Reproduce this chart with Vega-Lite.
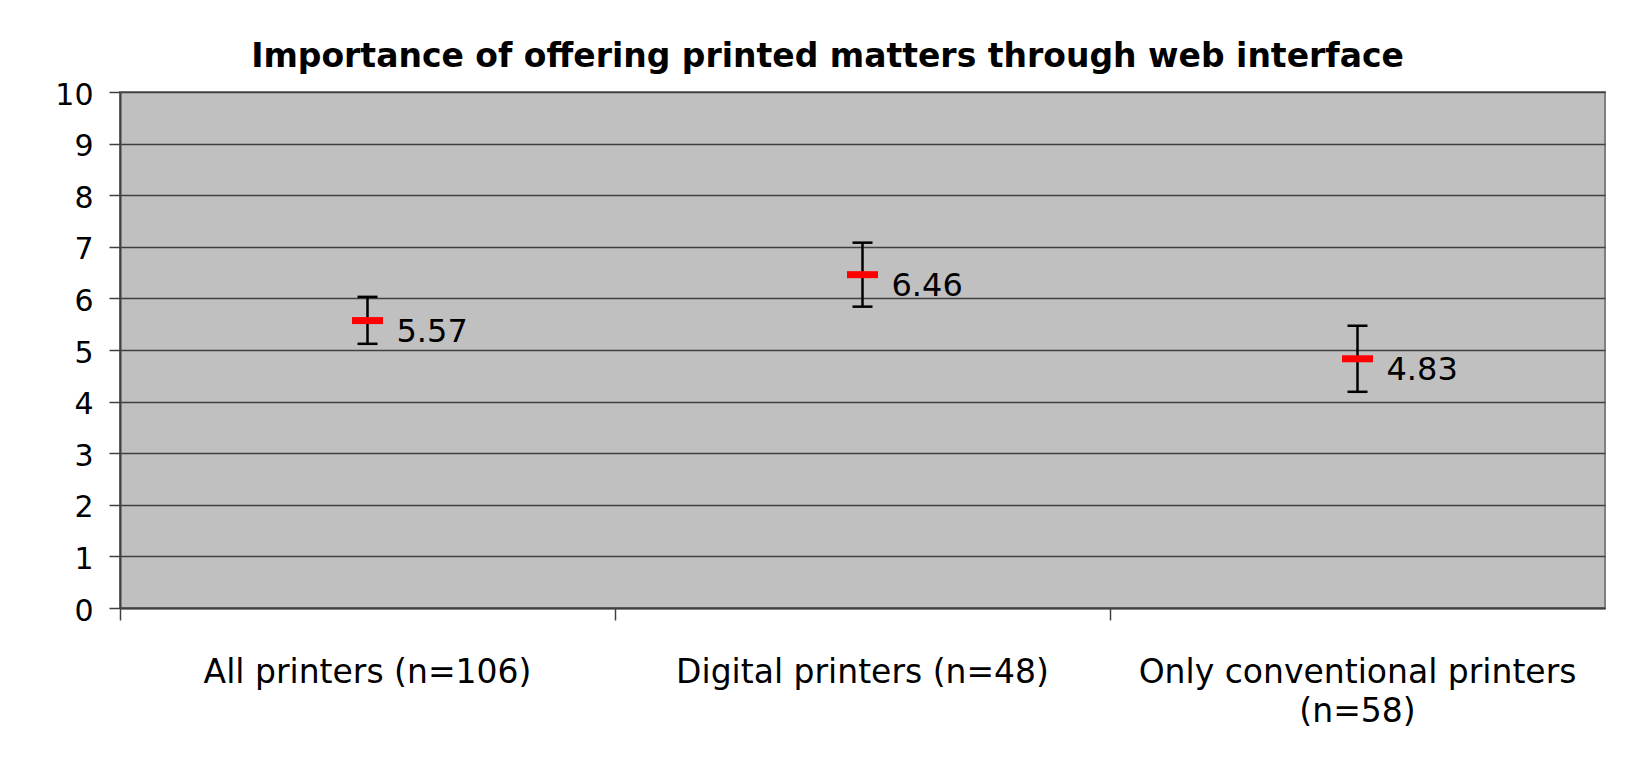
{
  "$schema": "https://vega.github.io/schema/vega-lite/v6.json",
  "autosize": {"type": "none"},
  "width": 1485,
  "height": 516,
  "padding": {"left": 120, "top": 92, "right": 43, "bottom": 164},
  "background": "white",
  "title": {
    "text": "Importance of offering printed matters through web interface",
    "font": "DejaVu Sans",
    "fontWeight": "bold",
    "fontSize": 33,
    "color": "black",
    "anchor": "middle",
    "baseline": "alphabetic",
    "offset": 25,
    "dx": -35,
    "dy": 45
  },
  "data": {
    "values": [
      {"category": "All printers (n=106)", "mean": 5.57, "lower": 5.12, "upper": 6.03},
      {"category": "Digital printers (n=48)", "mean": 6.46, "lower": 5.84, "upper": 7.08},
      {"category": "Only conventional printers (n=58)", "mean": 4.83, "lower": 4.19, "upper": 5.47}
    ]
  },
  "encoding": {
    "x": {
      "field": "category",
      "type": "nominal",
      "sort": null,
      "scale": {"paddingInner": 0, "paddingOuter": 0},
      "axis": {
        "title": null,
        "labelAngle": 0,
        "labelFont": "DejaVu Sans",
        "labelFontSize": 33,
        "labelColor": "black",
        "labelBaseline": "alphabetic",
        "labelPadding": 62,
        "labelLineHeight": 39,
        "labelLimit": 600,
        "labelExpr": "datum.label == 'Only conventional printers (n=58)' ? ['Only conventional printers', '(n=58)'] : datum.label",
        "bandPosition": 0,
        "tickSize": 12,
        "tickColor": "#404040",
        "tickWidth": 1.5,
        "domainColor": "#404040",
        "domainWidth": 2,
        "grid": false
      }
    }
  },
  "layer": [
    {
      "mark": {"type": "rule", "color": "black", "strokeWidth": 2.5, "opacity": 1},
      "encoding": {
        "y": {
          "field": "lower",
          "type": "quantitative",
          "scale": {"domain": [0, 10], "nice": false},
          "axis": {
            "title": null,
            "values": [0, 1, 2, 3, 4, 5, 6, 7, 8, 9, 10],
            "labelFont": "DejaVu Sans",
            "labelFontSize": 30,
            "labelColor": "black",
            "labelPadding": 16,
            "labelOffset": 3,
            "tickSize": 11,
            "tickColor": "#404040",
            "tickWidth": 1.5,
            "domainColor": "#404040",
            "domainWidth": 2,
            "grid": true,
            "gridColor": "#404040",
            "gridWidth": 1.3
          }
        },
        "y2": {"field": "upper"}
      }
    },
    {
      "mark": {"type": "tick", "color": "black", "size": 20, "thickness": 2.5, "orient": "horizontal", "opacity": 1},
      "encoding": {"y": {"field": "lower", "type": "quantitative"}}
    },
    {
      "mark": {"type": "tick", "color": "black", "size": 20, "thickness": 2.5, "orient": "horizontal", "opacity": 1},
      "encoding": {"y": {"field": "upper", "type": "quantitative"}}
    },
    {
      "mark": {"type": "tick", "color": "#FF0000", "size": 31, "thickness": 7, "orient": "horizontal", "opacity": 1},
      "encoding": {"y": {"field": "mean", "type": "quantitative"}}
    },
    {
      "mark": {"type": "text", "align": "left", "baseline": "alphabetic", "dx": 29, "dy": 21, "font": "DejaVu Sans", "fontSize": 32, "color": "black"},
      "encoding": {
        "y": {"field": "mean", "type": "quantitative"},
        "text": {"field": "mean", "type": "quantitative", "format": ".2f"}
      }
    }
  ],
  "config": {
    "view": {"fill": "#C0C0C0", "stroke": "#808080", "strokeWidth": 2}
  }
}
